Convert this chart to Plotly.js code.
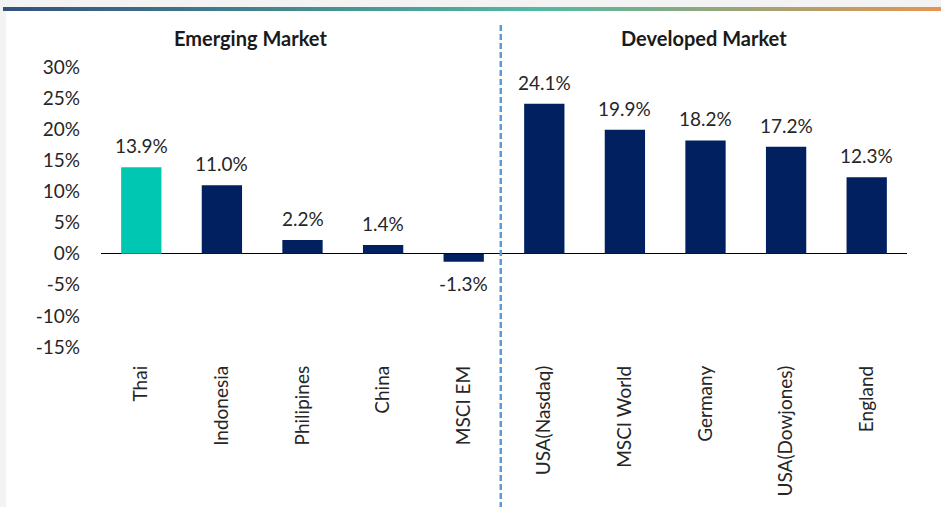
<!DOCTYPE html>
<html>
<head>
<meta charset="utf-8">
<script src="https://cdn.plot.ly/plotly-3.0.1.min.js"></script>
<style>
    body { margin: 0; }
    #frame { position: relative; width: 941px; height: 507px; background: #f3f3f3; overflow: hidden; }
    #panel { position: absolute; left: 6px; top: 11px; right: 0; bottom: 0; background: #ffffff; }
    #band { position: absolute; left: 3px; top: 7px; right: 0; height: 4px;
            background: linear-gradient(to right, #33507f 0%, #44888f 30%, #52b9a2 57%, #9aa579 78%, #e59450 100%); }
    #chart { position: absolute; left: 0; top: 0; width: 941px; height: 507px; }
</style>
</head>
<body>
<div id="frame">
    <div id="panel"></div>
    <div id="band"></div>
    <div id="chart"></div>
</div>
<script>
// Returns by market (%)
const markets = ['Thai', 'Indonesia', 'Philipines', 'China', 'MSCI EM',
                 'USA(Nasdaq)', 'MSCI World', 'Germany', 'USA(Dowjones)', 'England'];
const returns = [13.9, 11.0, 2.2, 1.4, -1.3, 24.1, 19.9, 18.2, 17.2, 12.3];
const groupTitles = ['Emerging Market', 'Developed Market'];
const yTicks = [-15, -10, -5, 0, 5, 10, 15, 20, 25, 30];

const navy = '#002060';
const teal = '#00C7B1';
const barColors = markets.map(m => m === 'Thai' ? teal : navy);

const font = { family: 'Lato, "Open Sans", sans-serif', size: 19, color: '#262626' };

const trace = {
    type: 'bar',
    x: markets,
    y: returns,
    marker: { color: barColors },
    cliponaxis: false,
    hoverinfo: 'skip'
};

// value labels above / below each bar
const valueLabels = markets.map((m, i) => ({
    x: m,
    y: returns[i],
    xref: 'x', yref: 'y',
    text: returns[i].toFixed(1) + '%',
    showarrow: false,
    xanchor: 'center',
    yanchor: returns[i] >= 0 ? 'bottom' : 'top',
    yshift: returns[i] >= 0 ? 8 : -8,
    font: { ...font, size: 19 }
}));

const titleFont = { ...font, size: 20, color: '#1a1a1a' };

const layout = {
    width: 941,
    height: 507,
    paper_bgcolor: 'rgba(0,0,0,0)',
    plot_bgcolor: 'rgba(0,0,0,0)',
    margin: { l: 101, r: 34, t: 67, b: 160 },
    font: font,
    showlegend: false,
    bargap: 0.5,
    xaxis: {
        type: 'category',
        tickangle: -90,
        showgrid: false,
        showline: false,
        ticks: '',
        ticklabelstandoff: 14,
        tickfont: { ...font, size: 19 }
    },
    yaxis: {
        range: [-15, 30],
        tickvals: yTicks,
        ticktext: yTicks.map(v => v + '%'),
        showgrid: false,
        zeroline: true,
        zerolinecolor: '#000000',
        zerolinewidth: 1.5,
        ticks: '',
        ticklabelstandoff: 20,
        tickfont: { ...font }
    },
    shapes: [{
        type: 'line',
        xref: 'paper', yref: 'paper',
        x0: 0.496, x1: 0.496,
        y0: 1.15, y1: -0.58,
        line: { color: '#5B9BD5', width: 2.5, dash: '6px,3px' }
    }],
    annotations: [
        { text: '<b>' + groupTitles[0] + '</b>', xref: 'paper', yref: 'paper',
          x: 0.186, y: 1.104, xanchor: 'center', yanchor: 'middle',
          showarrow: false, font: titleFont },
        { text: '<b>' + groupTitles[1] + '</b>', xref: 'paper', yref: 'paper',
          x: 0.748, y: 1.104, xanchor: 'center', yanchor: 'middle',
          showarrow: false, font: titleFont }
    ].concat(valueLabels)
};

Plotly.newPlot('chart', [trace], layout, { displayModeBar: false, staticPlot: true });
</script>
</body>
</html>
